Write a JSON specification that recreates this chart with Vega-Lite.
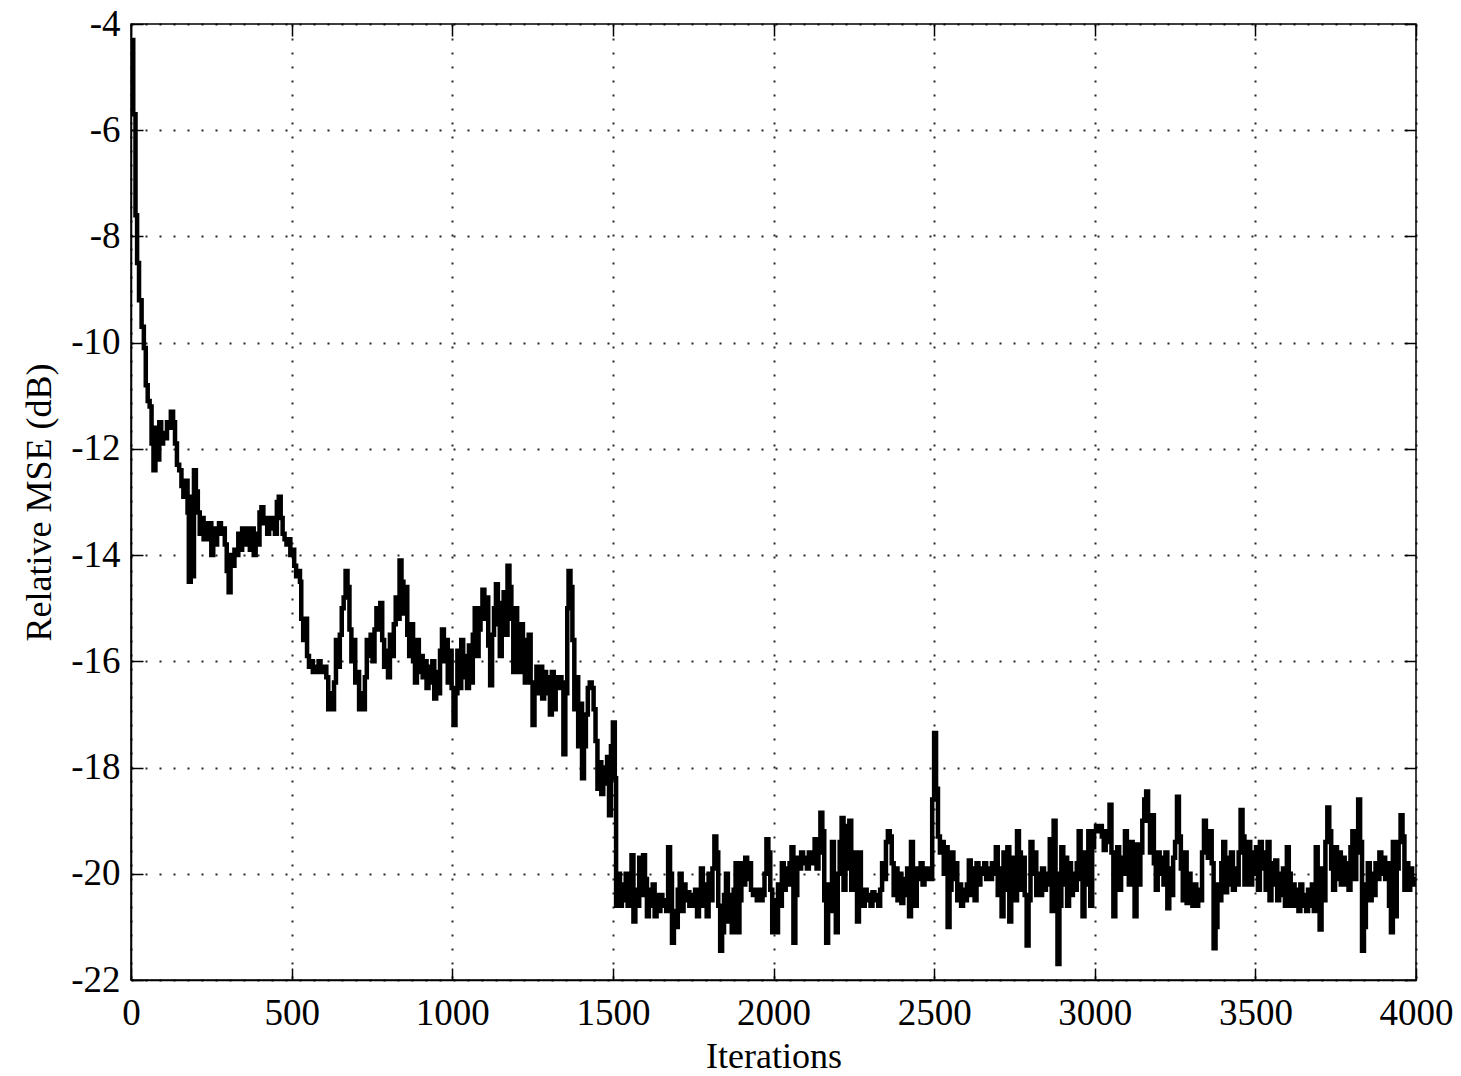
{
  "$schema": "https://vega.github.io/schema/vega-lite/v6.json",
  "width": 1285,
  "height": 956,
  "autosize": {"type": "none"},
  "padding": {"left": 131, "top": 24, "right": 45, "bottom": 96},
  "background": "white",
  "config": {
    "view": {"stroke": "black", "strokeWidth": 1.5},
    "axis": {
      "domainColor": "black", "domainWidth": 1.5,
      "tickColor": "black", "tickWidth": 1.5, "tickSize": -12,
      "gridColor": "black", "gridDash": [2, 12], "gridWidth": 2, "gridOpacity": 0.85,
      "labelFont": "Liberation Serif", "labelFontSize": 37, "labelColor": "black", "labelFlush": false,
      "titleFont": "Liberation Serif", "titleFontSize": 36, "titleFontWeight": "normal", "titleColor": "black"
    }
  },
  "data": {"values": [
    {"i":0,"v":-4.3},{"i":7,"v":-5.7},{"i":14,"v":-7.6},{"i":19,"v":-8.5},{"i":25,"v":-9.2},{"i":33,"v":-9.7},{"i":40,"v":-10.1},{"i":46,"v":-10.8},{"i":52,"v":-11.1},{"i":58,"v":-11.2},
    {"i":64,"v":-11.9},{"i":70,"v":-12.4},{"i":76,"v":-11.6},{"i":82,"v":-12.2},{"i":88,"v":-11.5},{"i":94,"v":-11.9},{"i":100,"v":-11.7},{"i":106,"v":-11.8},{"i":112,"v":-11.5},{"i":118,"v":-11.6},
    {"i":124,"v":-11.3},{"i":131,"v":-11.5},{"i":137,"v":-11.9},{"i":143,"v":-12.3},{"i":150,"v":-12.4},{"i":157,"v":-12.7},{"i":163,"v":-12.9},{"i":170,"v":-12.6},{"i":176,"v":-13.2},{"i":180,"v":-14.5},
    {"i":186,"v":-12.9},{"i":192,"v":-14.4},{"i":196,"v":-12.4},{"i":202,"v":-12.8},{"i":208,"v":-13.2},{"i":214,"v":-13.6},{"i":220,"v":-13.3},{"i":226,"v":-13.7},{"i":232,"v":-13.4},{"i":238,"v":-13.7},
    {"i":244,"v":-13.4},{"i":250,"v":-14.0},{"i":256,"v":-13.5},{"i":262,"v":-13.8},{"i":268,"v":-13.6},{"i":274,"v":-13.4},{"i":280,"v":-13.6},{"i":286,"v":-13.5},{"i":292,"v":-13.8},{"i":298,"v":-14.3},
    {"i":304,"v":-14.7},{"i":310,"v":-14.0},{"i":316,"v":-14.2},{"i":322,"v":-13.9},{"i":328,"v":-14.0},{"i":334,"v":-13.6},{"i":340,"v":-13.9},{"i":346,"v":-13.5},{"i":352,"v":-13.8},{"i":358,"v":-13.5},
    {"i":364,"v":-13.6},{"i":370,"v":-13.9},{"i":376,"v":-13.5},{"i":382,"v":-14.0},{"i":388,"v":-13.6},{"i":394,"v":-13.8},{"i":400,"v":-13.2},{"i":406,"v":-13.1},{"i":412,"v":-13.4},{"i":418,"v":-13.3},
    {"i":424,"v":-13.6},{"i":430,"v":-13.3},{"i":436,"v":-13.5},{"i":442,"v":-13.3},{"i":448,"v":-13.6},{"i":454,"v":-13.0},{"i":460,"v":-12.9},{"i":466,"v":-13.3},{"i":472,"v":-13.6},{"i":478,"v":-13.7},
    {"i":484,"v":-13.8},{"i":490,"v":-13.7},{"i":496,"v":-14.0},{"i":502,"v":-13.9},{"i":508,"v":-14.2},{"i":514,"v":-14.4},{"i":520,"v":-14.3},{"i":526,"v":-14.5},{"i":530,"v":-15.2},{"i":536,"v":-15.6},
    {"i":542,"v":-15.2},{"i":548,"v":-15.9},{"i":554,"v":-16.1},{"i":560,"v":-16.0},{"i":566,"v":-16.2},{"i":572,"v":-16.1},{"i":578,"v":-16.2},{"i":584,"v":-16.0},{"i":590,"v":-16.1},{"i":596,"v":-16.2},
    {"i":602,"v":-16.1},{"i":608,"v":-16.3},{"i":614,"v":-16.9},{"i":620,"v":-16.6},{"i":626,"v":-16.9},{"i":632,"v":-16.4},{"i":638,"v":-15.6},{"i":644,"v":-16.1},{"i":650,"v":-15.5},{"i":656,"v":-15.0},
    {"i":662,"v":-14.8},{"i":668,"v":-14.3},{"i":674,"v":-14.6},{"i":680,"v":-15.4},{"i":686,"v":-16.0},{"i":692,"v":-15.6},{"i":698,"v":-16.4},{"i":704,"v":-16.2},{"i":710,"v":-16.9},{"i":716,"v":-16.6},
    {"i":722,"v":-16.9},{"i":728,"v":-16.3},{"i":734,"v":-15.6},{"i":740,"v":-15.9},{"i":746,"v":-15.5},{"i":752,"v":-16.0},{"i":758,"v":-15.4},{"i":764,"v":-15.0},{"i":770,"v":-15.4},{"i":776,"v":-14.9},
    {"i":782,"v":-15.6},{"i":788,"v":-16.1},{"i":794,"v":-15.8},{"i":800,"v":-16.3},{"i":806,"v":-15.5},{"i":812,"v":-15.9},{"i":818,"v":-15.3},{"i":824,"v":-14.8},{"i":830,"v":-15.2},{"i":836,"v":-14.1},
    {"i":842,"v":-14.5},{"i":848,"v":-15.1},{"i":854,"v":-14.6},{"i":860,"v":-15.5},{"i":866,"v":-15.9},{"i":872,"v":-15.3},{"i":878,"v":-16.0},{"i":884,"v":-16.4},{"i":890,"v":-15.6},{"i":896,"v":-16.2},
    {"i":902,"v":-15.9},{"i":908,"v":-16.3},{"i":914,"v":-16.0},{"i":920,"v":-16.5},{"i":926,"v":-16.1},{"i":932,"v":-16.4},{"i":938,"v":-16.0},{"i":944,"v":-16.7},{"i":950,"v":-16.2},{"i":956,"v":-16.6},
    {"i":962,"v":-15.8},{"i":968,"v":-15.4},{"i":974,"v":-16.0},{"i":980,"v":-15.6},{"i":986,"v":-16.4},{"i":992,"v":-15.8},{"i":998,"v":-16.5},{"i":1004,"v":-17.2},{"i":1010,"v":-16.6},{"i":1016,"v":-15.8},
    {"i":1022,"v":-16.5},{"i":1028,"v":-15.6},{"i":1034,"v":-16.3},{"i":1040,"v":-15.9},{"i":1046,"v":-16.5},{"i":1052,"v":-15.7},{"i":1058,"v":-16.4},{"i":1064,"v":-15.5},{"i":1070,"v":-15.0},{"i":1076,"v":-15.9},
    {"i":1082,"v":-15.4},{"i":1088,"v":-15.0},{"i":1094,"v":-14.65},{"i":1100,"v":-15.2},{"i":1106,"v":-14.8},{"i":1112,"v":-15.7},{"i":1118,"v":-16.45},{"i":1124,"v":-15.5},{"i":1130,"v":-15.0},{"i":1136,"v":-14.55},
    {"i":1142,"v":-15.3},{"i":1148,"v":-15.9},{"i":1154,"v":-14.9},{"i":1160,"v":-14.7},{"i":1166,"v":-15.5},{"i":1172,"v":-14.2},{"i":1178,"v":-14.6},{"i":1184,"v":-15.2},{"i":1190,"v":-16.2},{"i":1196,"v":-15.0},
    {"i":1202,"v":-15.6},{"i":1208,"v":-16.2},{"i":1214,"v":-15.3},{"i":1220,"v":-16.1},{"i":1226,"v":-16.4},{"i":1232,"v":-15.6},{"i":1238,"v":-15.5},{"i":1244,"v":-16.4},{"i":1250,"v":-17.2},{"i":1256,"v":-16.5},
    {"i":1262,"v":-16.1},{"i":1268,"v":-16.6},{"i":1274,"v":-16.1},{"i":1280,"v":-16.7},{"i":1286,"v":-16.2},{"i":1292,"v":-16.6},{"i":1298,"v":-16.3},{"i":1304,"v":-17.0},{"i":1310,"v":-16.2},{"i":1316,"v":-16.9},
    {"i":1322,"v":-16.3},{"i":1328,"v":-16.5},{"i":1334,"v":-16.3},{"i":1340,"v":-16.4},{"i":1346,"v":-17.75},{"i":1352,"v":-16.6},{"i":1358,"v":-15.0},{"i":1362,"v":-14.3},{"i":1368,"v":-14.6},{"i":1374,"v":-15.6},
    {"i":1380,"v":-16.9},{"i":1386,"v":-16.3},{"i":1392,"v":-17.6},{"i":1398,"v":-16.8},{"i":1404,"v":-18.2},{"i":1410,"v":-17.6},{"i":1416,"v":-17.0},{"i":1422,"v":-16.5},{"i":1428,"v":-16.4},{"i":1434,"v":-16.5},
    {"i":1440,"v":-16.9},{"i":1446,"v":-17.5},{"i":1452,"v":-18.4},{"i":1458,"v":-17.9},{"i":1464,"v":-18.5},{"i":1470,"v":-18.0},{"i":1476,"v":-18.3},{"i":1482,"v":-17.8},{"i":1488,"v":-18.9},{"i":1494,"v":-17.6},
    {"i":1500,"v":-17.15},{"i":1506,"v":-18.2},{"i":1510,"v":-20.6},{"i":1516,"v":-20.0},{"i":1522,"v":-20.6},{"i":1528,"v":-20.2},{"i":1534,"v":-20.5},{"i":1540,"v":-20.0},{"i":1546,"v":-20.6},{"i":1552,"v":-20.2},
    {"i":1558,"v":-19.65},{"i":1564,"v":-20.9},{"i":1570,"v":-20.3},{"i":1576,"v":-20.6},{"i":1582,"v":-19.7},{"i":1588,"v":-20.4},{"i":1594,"v":-19.65},{"i":1600,"v":-20.1},{"i":1606,"v":-20.8},{"i":1612,"v":-20.3},
    {"i":1618,"v":-20.6},{"i":1624,"v":-20.2},{"i":1630,"v":-20.8},{"i":1636,"v":-20.4},{"i":1642,"v":-20.7},{"i":1648,"v":-20.4},{"i":1654,"v":-20.6},{"i":1660,"v":-20.5},{"i":1666,"v":-20.7},{"i":1672,"v":-19.5},
    {"i":1678,"v":-20.0},{"i":1684,"v":-21.3},{"i":1690,"v":-20.7},{"i":1696,"v":-21.0},{"i":1702,"v":-20.3},{"i":1708,"v":-20.0},{"i":1714,"v":-20.7},{"i":1720,"v":-20.2},{"i":1726,"v":-20.5},{"i":1732,"v":-20.35},
    {"i":1738,"v":-20.6},{"i":1744,"v":-20.4},{"i":1750,"v":-20.6},{"i":1756,"v":-20.3},{"i":1762,"v":-20.8},{"i":1768,"v":-20.4},{"i":1774,"v":-19.9},{"i":1780,"v":-20.6},{"i":1786,"v":-20.2},{"i":1792,"v":-20.8},
    {"i":1798,"v":-20.0},{"i":1804,"v":-20.5},{"i":1810,"v":-19.9},{"i":1816,"v":-19.3},{"i":1822,"v":-19.6},{"i":1828,"v":-20.6},{"i":1834,"v":-21.45},{"i":1840,"v":-21.1},{"i":1846,"v":-20.4},{"i":1852,"v":-20.0},
    {"i":1858,"v":-20.9},{"i":1864,"v":-20.4},{"i":1870,"v":-21.1},{"i":1876,"v":-20.3},{"i":1882,"v":-19.8},{"i":1888,"v":-21.1},{"i":1894,"v":-20.5},{"i":1900,"v":-19.8},{"i":1906,"v":-20.2},{"i":1912,"v":-19.7},
    {"i":1918,"v":-20.1},{"i":1924,"v":-19.8},{"i":1930,"v":-20.3},{"i":1936,"v":-20.4},{"i":1942,"v":-20.3},{"i":1948,"v":-20.5},{"i":1954,"v":-20.3},{"i":1960,"v":-20.5},{"i":1966,"v":-20.4},{"i":1972,"v":-20.0},
    {"i":1978,"v":-19.35},{"i":1984,"v":-19.6},{"i":1990,"v":-20.3},{"i":1996,"v":-21.1},{"i":2002,"v":-20.5},{"i":2008,"v":-21.1},{"i":2014,"v":-20.2},{"i":2020,"v":-20.6},{"i":2026,"v":-19.8},{"i":2032,"v":-20.3},
    {"i":2038,"v":-19.9},{"i":2044,"v":-20.2},{"i":2050,"v":-19.8},{"i":2056,"v":-19.5},{"i":2062,"v":-21.3},{"i":2068,"v":-20.4},{"i":2074,"v":-19.7},{"i":2080,"v":-19.9},{"i":2086,"v":-19.6},{"i":2092,"v":-19.8},
    {"i":2098,"v":-19.7},{"i":2104,"v":-19.9},{"i":2110,"v":-19.6},{"i":2116,"v":-19.8},{"i":2122,"v":-19.7},{"i":2128,"v":-19.35},{"i":2134,"v":-19.9},{"i":2140,"v":-19.6},{"i":2146,"v":-18.85},{"i":2152,"v":-19.2},
    {"i":2158,"v":-20.5},{"i":2164,"v":-21.3},{"i":2170,"v":-20.2},{"i":2176,"v":-20.7},{"i":2182,"v":-19.4},{"i":2188,"v":-20.3},{"i":2194,"v":-21.1},{"i":2200,"v":-20.0},{"i":2206,"v":-19.4},{"i":2212,"v":-18.95},
    {"i":2218,"v":-20.3},{"i":2224,"v":-19.1},{"i":2230,"v":-19.9},{"i":2236,"v":-19.0},{"i":2242,"v":-20.3},{"i":2248,"v":-19.6},{"i":2254,"v":-20.2},{"i":2260,"v":-20.9},{"i":2266,"v":-19.6},{"i":2272,"v":-20.4},
    {"i":2278,"v":-20.6},{"i":2284,"v":-20.3},{"i":2290,"v":-20.5},{"i":2296,"v":-20.4},{"i":2302,"v":-20.6},{"i":2308,"v":-20.35},{"i":2314,"v":-20.5},{"i":2320,"v":-20.4},{"i":2326,"v":-20.6},{"i":2332,"v":-20.3},
    {"i":2338,"v":-19.8},{"i":2344,"v":-20.1},{"i":2350,"v":-19.4},{"i":2356,"v":-19.2},{"i":2362,"v":-19.3},{"i":2368,"v":-19.8},{"i":2374,"v":-20.4},{"i":2380,"v":-19.9},{"i":2386,"v":-20.5},{"i":2392,"v":-20.0},
    {"i":2398,"v":-20.55},{"i":2404,"v":-20.1},{"i":2410,"v":-20.4},{"i":2416,"v":-19.9},{"i":2422,"v":-20.8},{"i":2428,"v":-19.4},{"i":2434,"v":-20.3},{"i":2440,"v":-20.6},{"i":2446,"v":-19.9},{"i":2452,"v":-20.1},
    {"i":2458,"v":-19.8},{"i":2464,"v":-20.2},{"i":2470,"v":-19.9},{"i":2476,"v":-20.1},{"i":2482,"v":-19.9},{"i":2488,"v":-20.1},{"i":2494,"v":-18.6},{"i":2500,"v":-17.35},{"i":2506,"v":-18.4},{"i":2512,"v":-19.3},
    {"i":2518,"v":-19.6},{"i":2524,"v":-19.4},{"i":2530,"v":-20.0},{"i":2536,"v":-19.5},{"i":2542,"v":-21.0},{"i":2548,"v":-20.3},{"i":2554,"v":-19.6},{"i":2560,"v":-20.1},{"i":2566,"v":-19.8},{"i":2572,"v":-20.5},
    {"i":2578,"v":-20.2},{"i":2584,"v":-20.6},{"i":2590,"v":-20.3},{"i":2596,"v":-20.5},{"i":2602,"v":-20.2},{"i":2608,"v":-19.75},{"i":2614,"v":-20.4},{"i":2620,"v":-19.9},{"i":2626,"v":-20.5},{"i":2632,"v":-19.8},
    {"i":2638,"v":-20.2},{"i":2644,"v":-19.9},{"i":2650,"v":-20.0},{"i":2656,"v":-19.8},{"i":2662,"v":-20.1},{"i":2668,"v":-19.9},{"i":2674,"v":-20.1},{"i":2680,"v":-19.8},{"i":2686,"v":-20.0},{"i":2692,"v":-19.5},
    {"i":2698,"v":-20.4},{"i":2704,"v":-19.9},{"i":2710,"v":-20.8},{"i":2716,"v":-19.6},{"i":2722,"v":-20.3},{"i":2728,"v":-19.5},{"i":2734,"v":-20.9},{"i":2740,"v":-20.2},{"i":2746,"v":-19.7},{"i":2752,"v":-20.5},
    {"i":2758,"v":-19.2},{"i":2764,"v":-19.6},{"i":2770,"v":-20.3},{"i":2776,"v":-19.7},{"i":2782,"v":-20.4},{"i":2788,"v":-21.35},{"i":2794,"v":-20.5},{"i":2800,"v":-19.4},{"i":2806,"v":-20.0},{"i":2812,"v":-19.6},
    {"i":2818,"v":-20.4},{"i":2824,"v":-20.0},{"i":2830,"v":-20.4},{"i":2836,"v":-19.9},{"i":2842,"v":-20.3},{"i":2848,"v":-20.0},{"i":2854,"v":-20.2},{"i":2860,"v":-19.35},{"i":2866,"v":-20.7},{"i":2872,"v":-19.0},
    {"i":2878,"v":-20.0},{"i":2884,"v":-21.7},{"i":2890,"v":-20.6},{"i":2896,"v":-19.5},{"i":2902,"v":-20.2},{"i":2908,"v":-19.7},{"i":2914,"v":-20.6},{"i":2920,"v":-19.8},{"i":2926,"v":-20.4},{"i":2932,"v":-20.0},
    {"i":2938,"v":-20.3},{"i":2944,"v":-19.8},{"i":2950,"v":-19.2},{"i":2956,"v":-20.1},{"i":2962,"v":-20.8},{"i":2968,"v":-19.6},{"i":2974,"v":-20.2},{"i":2980,"v":-19.2},{"i":2986,"v":-20.6},{"i":2992,"v":-19.5},
    {"i":2998,"v":-19.2},{"i":3004,"v":-19.1},{"i":3010,"v":-19.2},{"i":3016,"v":-19.1},{"i":3022,"v":-19.3},{"i":3028,"v":-19.55},{"i":3034,"v":-19.2},{"i":3040,"v":-19.4},{"i":3046,"v":-18.7},{"i":3052,"v":-19.6},
    {"i":3058,"v":-20.8},{"i":3064,"v":-19.9},{"i":3070,"v":-19.5},{"i":3076,"v":-20.3},{"i":3082,"v":-19.7},{"i":3088,"v":-20.0},{"i":3094,"v":-19.2},{"i":3100,"v":-19.6},{"i":3106,"v":-20.2},{"i":3112,"v":-19.4},
    {"i":3118,"v":-19.8},{"i":3124,"v":-20.8},{"i":3130,"v":-19.45},{"i":3136,"v":-20.2},{"i":3142,"v":-19.6},{"i":3148,"v":-19.0},{"i":3154,"v":-18.6},{"i":3160,"v":-18.45},{"i":3166,"v":-19.0},{"i":3172,"v":-19.6},
    {"i":3178,"v":-18.9},{"i":3184,"v":-19.8},{"i":3190,"v":-20.3},{"i":3196,"v":-19.6},{"i":3202,"v":-20.0},{"i":3208,"v":-19.7},{"i":3214,"v":-20.2},{"i":3220,"v":-19.6},{"i":3226,"v":-20.65},{"i":3232,"v":-19.9},
    {"i":3238,"v":-20.4},{"i":3244,"v":-19.7},{"i":3250,"v":-19.4},{"i":3256,"v":-18.55},{"i":3262,"v":-19.3},{"i":3268,"v":-19.9},{"i":3274,"v":-20.5},{"i":3280,"v":-19.6},{"i":3286,"v":-20.55},{"i":3292,"v":-20.0},
    {"i":3298,"v":-20.3},{"i":3304,"v":-20.6},{"i":3310,"v":-20.2},{"i":3316,"v":-20.6},{"i":3322,"v":-20.3},{"i":3328,"v":-20.5},{"i":3334,"v":-19.6},{"i":3340,"v":-19.0},{"i":3346,"v":-19.3},{"i":3352,"v":-19.7},
    {"i":3358,"v":-19.2},{"i":3364,"v":-19.8},{"i":3370,"v":-21.4},{"i":3376,"v":-21.0},{"i":3382,"v":-20.2},{"i":3388,"v":-20.5},{"i":3394,"v":-19.8},{"i":3400,"v":-19.4},{"i":3406,"v":-20.35},{"i":3412,"v":-19.7},
    {"i":3418,"v":-20.2},{"i":3424,"v":-19.6},{"i":3430,"v":-20.3},{"i":3436,"v":-19.9},{"i":3442,"v":-20.2},{"i":3448,"v":-19.6},{"i":3454,"v":-18.8},{"i":3460,"v":-19.3},{"i":3466,"v":-20.2},{"i":3472,"v":-19.8},
    {"i":3478,"v":-19.4},{"i":3484,"v":-20.2},{"i":3490,"v":-19.6},{"i":3496,"v":-20.0},{"i":3502,"v":-19.5},{"i":3508,"v":-20.3},{"i":3514,"v":-19.4},{"i":3520,"v":-19.9},{"i":3526,"v":-19.6},{"i":3532,"v":-20.3},
    {"i":3538,"v":-19.4},{"i":3544,"v":-20.5},{"i":3550,"v":-19.8},{"i":3556,"v":-20.2},{"i":3562,"v":-19.75},{"i":3568,"v":-20.5},{"i":3574,"v":-20.0},{"i":3580,"v":-20.4},{"i":3586,"v":-19.9},{"i":3592,"v":-20.6},
    {"i":3598,"v":-19.5},{"i":3604,"v":-20.0},{"i":3610,"v":-20.6},{"i":3616,"v":-20.2},{"i":3622,"v":-20.6},{"i":3628,"v":-20.3},{"i":3634,"v":-20.7},{"i":3640,"v":-20.2},{"i":3646,"v":-20.6},{"i":3652,"v":-20.4},
    {"i":3658,"v":-20.7},{"i":3664,"v":-20.3},{"i":3670,"v":-20.6},{"i":3676,"v":-20.2},{"i":3682,"v":-20.7},{"i":3688,"v":-19.5},{"i":3694,"v":-20.3},{"i":3700,"v":-21.05},{"i":3706,"v":-19.9},{"i":3712,"v":-20.5},
    {"i":3718,"v":-19.4},{"i":3724,"v":-18.75},{"i":3730,"v":-19.2},{"i":3736,"v":-19.9},{"i":3742,"v":-20.3},{"i":3748,"v":-19.5},{"i":3754,"v":-20.1},{"i":3760,"v":-19.6},{"i":3766,"v":-20.2},{"i":3772,"v":-19.7},
    {"i":3778,"v":-20.2},{"i":3784,"v":-19.8},{"i":3790,"v":-20.3},{"i":3796,"v":-19.5},{"i":3802,"v":-19.2},{"i":3808,"v":-20.1},{"i":3814,"v":-19.6},{"i":3820,"v":-18.6},{"i":3826,"v":-19.4},{"i":3832,"v":-21.45},
    {"i":3838,"v":-21.0},{"i":3844,"v":-20.2},{"i":3850,"v":-19.8},{"i":3856,"v":-20.5},{"i":3862,"v":-20.0},{"i":3868,"v":-20.4},{"i":3874,"v":-19.8},{"i":3880,"v":-20.1},{"i":3886,"v":-19.6},{"i":3892,"v":-20.0},
    {"i":3898,"v":-19.7},{"i":3904,"v":-20.1},{"i":3910,"v":-19.8},{"i":3916,"v":-20.6},{"i":3922,"v":-21.1},{"i":3928,"v":-19.4},{"i":3934,"v":-20.8},{"i":3940,"v":-19.9},{"i":3946,"v":-19.4},{"i":3952,"v":-18.9},
    {"i":3958,"v":-19.3},{"i":3964,"v":-20.3},{"i":3970,"v":-19.8},{"i":3976,"v":-20.3},{"i":3982,"v":-19.9},{"i":3988,"v":-20.1},{"i":3994,"v":-20.2},{"i":4000,"v":-20.1}
  ]},
  "layer": [
    {
      "mark": {"type": "line", "color": "black", "strokeWidth": 4.5, "interpolate": "step-after", "strokeCap": "square", "clip": true},
      "encoding": {
        "x": {"field": "i", "type": "quantitative", "scale": {"domain": [0, 4000], "nice": false, "zero": false},
          "axis": {"orient": "bottom", "values": [0,500,1000,1500,2000,2500,3000,3500,4000], "labelExpr": "datum.value + ''", "title": "Iterations", "labelPadding": 27, "titlePadding": 8, "grid": true}},
        "y": {"field": "v", "type": "quantitative", "scale": {"domain": [-22, -4], "nice": false, "zero": false},
          "axis": {"orient": "left", "values": [-22,-20,-18,-16,-14,-12,-10,-8,-6,-4], "labelExpr": "datum.value + ''", "title": "Relative MSE (dB)", "labelPadding": 23, "titlePadding": 12, "grid": true}}
      }
    },
    {
      "mark": {"type": "line", "strokeOpacity": 0},
      "encoding": {
        "x": {"field": "i", "type": "quantitative",
          "axis": {"orient": "top", "values": [0,500,1000,1500,2000,2500,3000,3500,4000], "labels": false, "title": null, "grid": false, "domain": false}},
        "y": {"field": "v", "type": "quantitative",
          "axis": {"orient": "right", "values": [-22,-20,-18,-16,-14,-12,-10,-8,-6,-4], "labels": false, "title": null, "grid": false, "domain": false}}
      }
    }
  ],
  "resolve": {"axis": {"x": "independent", "y": "independent"}}
}
